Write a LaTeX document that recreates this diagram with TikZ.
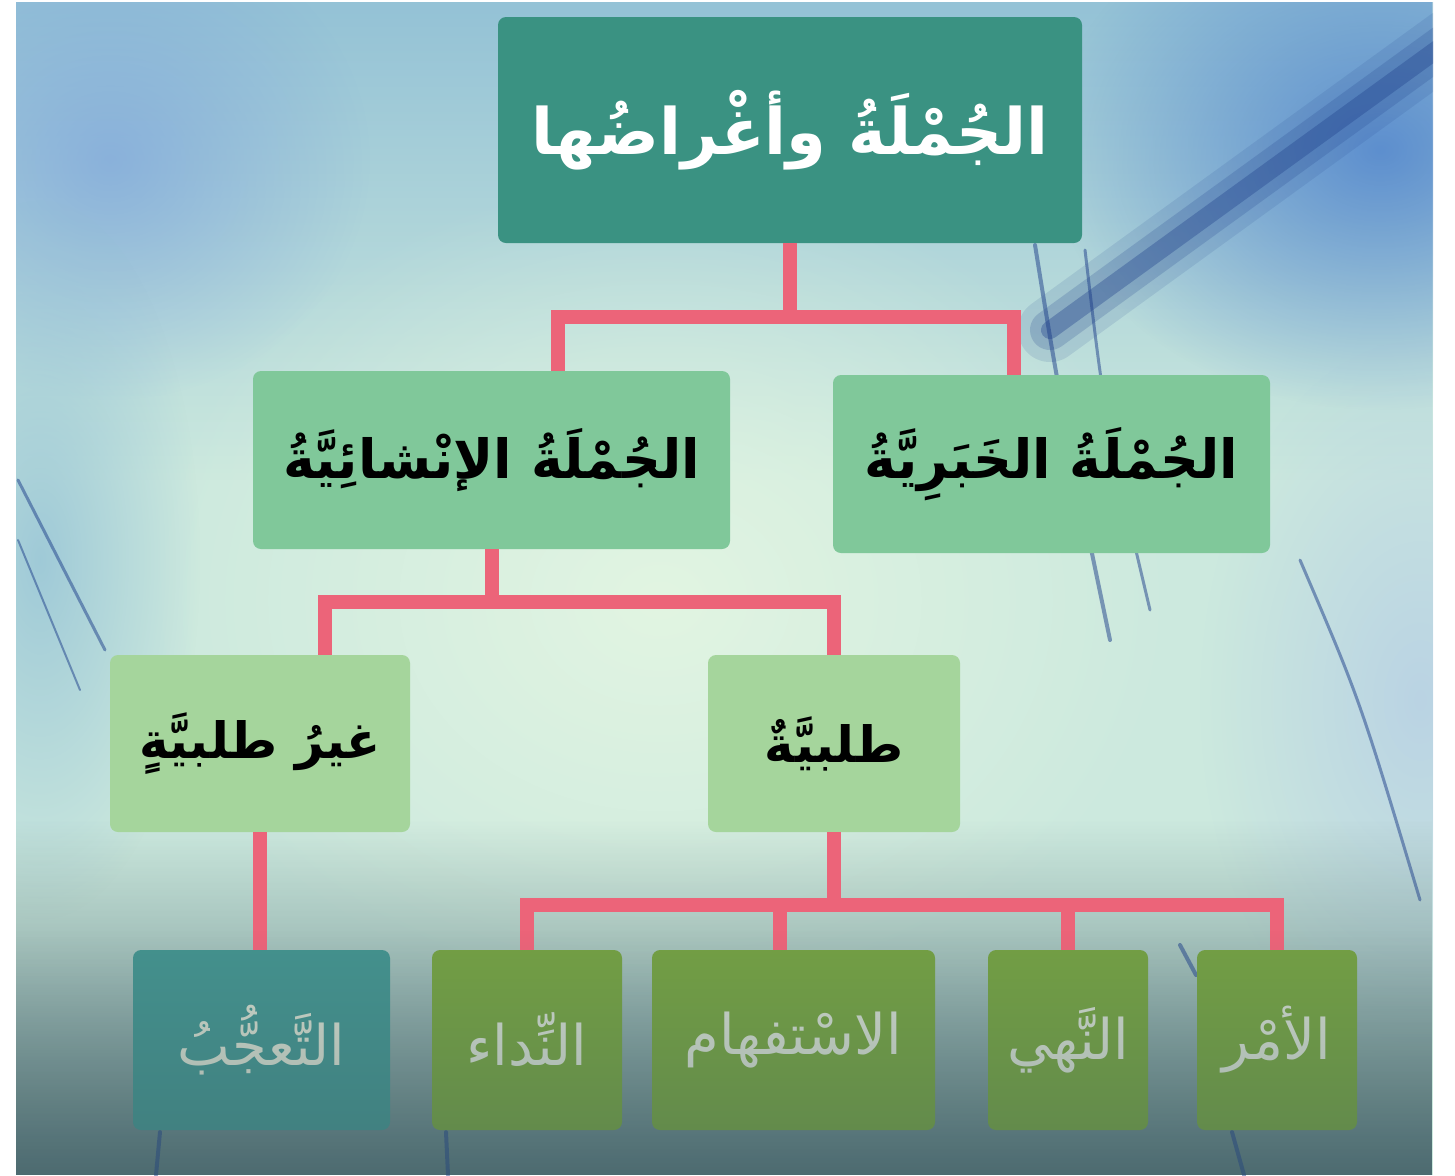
\documentclass[tikz,border=0pt]{standalone}
\usepackage{fontspec}
\TeXXeTstate=1
\newfontfamily\arabicfont[Script=Arabic]{DejaVu Sans}
\usetikzlibrary{calc}
\usetikzlibrary{fadings}
\definecolor{rootteal}{HTML}{3A9282}
\definecolor{kindgreen}{HTML}{80C89A}
\definecolor{subgreen}{HTML}{A5D59C}
\definecolor{leafolive}{HTML}{74A044}
\definecolor{leafteal}{HTML}{44928E}
\definecolor{leaftext}{HTML}{CED8CA}
\definecolor{linkred}{HTML}{EC6479}
\definecolor{bgtop}{HTML}{94C2D6}
\definecolor{bgmid}{HTML}{CCE9DE}
\definecolor{bgglow}{HTML}{E2F5E2}
\definecolor{bgblue}{HTML}{4B7FCC}
\definecolor{bgdark}{HTML}{3A5860}
\definecolor{feather}{HTML}{1E3F8A}
\tikzfading[name=glowfade, inner color=transparent!0, outer color=transparent!100]
\tikzfading[name=fadeup, top color=transparent!100, bottom color=transparent!0]
\tikzfading[name=fadedown, top color=transparent!0, bottom color=transparent!100]
\tikzset{%
  box/.style={rectangle, rounded corners=4pt, inner sep=0pt, anchor=center},
  rootbox/.style={box, fill=rootteal, text=white, minimum width=292pt, minimum height=113pt,
    font=\arabicfont\bfseries\fontsize{32pt}{38pt}\selectfont},
  kindbox/.style={box, fill=kindgreen, text=black, minimum width=#1, minimum height=89pt,
    font=\arabicfont\bfseries\fontsize{27pt}{32pt}\selectfont},
  subbox/.style={box, fill=subgreen, text=black, minimum width=#1, minimum height=88.5pt,
    font=\arabicfont\bfseries\fontsize{25pt}{30pt}\selectfont},
  leafbox/.style={box, fill=leafolive, text=leaftext, minimum width=#1, minimum height=90pt,
    font=\arabicfont\fontsize{28pt}{33pt}\selectfont},
  link/.style={draw=linkred, line width=7pt, line join=miter},
  streak/.style={draw=feather, line width=#1, opacity=0.5, line cap=round}
}

\begin{document}
\begin{tikzpicture}[x=0.5pt, y=-0.5pt]
  \useasboundingbox (0,0) rectangle (1455,1175);
  % photo behind the chart
  \begin{scope}
    \clip (16,2) rectangle (1433,1175);
    \fill[bgmid] (16,2) rectangle (1433,1175);
    \fill[bgtop, path fading=fadedown] (16,2) rectangle (1433,480);
    \fill[bgglow, path fading=glowfade] (660,600) ellipse [x radius=520, y radius=420];
    \fill[bgtop!85!blue, opacity=0.7, path fading=glowfade] (110,160) ellipse [x radius=260, y radius=240];
    \fill[bgtop, opacity=0.8, path fading=glowfade] (40,560) ellipse [x radius=160, y radius=360];
    \fill[bgblue, opacity=0.8, path fading=glowfade] (1380,150) ellipse [x radius=330, y radius=260];
    \fill[bgblue!45!white, opacity=0.6, path fading=glowfade] (1420,700) ellipse [x radius=220, y radius=360];
    \fill[bgdark, opacity=0.8, path fading=fadeup] (16,820) rectangle (1433,1175);
    \foreach \w/\o in {32pt/0.12, 20pt/0.2, 9pt/0.35}
      \draw[draw=feather, line width=\w, opacity=\o, line cap=round] (1450,40) -- (1050,330);
    \draw[streak=2pt] (1035,245) .. controls (1060,400) .. (1110,640);
    \draw[streak=1.5pt] (1085,250) .. controls (1105,420) .. (1150,610);
    \draw[streak=1.5pt] (18,480) -- (105,650);
    \draw[streak=1pt] (18,540) -- (80,690);
    \draw[streak=1.5pt] (1300,560) .. controls (1360,700) .. (1420,900);
    \draw[streak=2pt] (1180,945) -- (1196,975);
    \draw[streak=2pt] (160,1132) -- (156,1175);
    \draw[streak=2pt] (446,1132) -- (448,1175);
    \draw[streak=2pt] (1232,1132) -- (1244,1175);
  \end{scope}

  % boxes
  \node[rootbox] (root) at (790,130) {\beginR الجُمْلَةُ وأغْراضُها\endR};
  \node[kindbox=238.5pt] (inshaa) at (491.5,460) {\beginR الجُمْلَةُ الإنْشائِيَّةُ\endR};
  \node[kindbox=218.5pt] (khabar) at (1051.5,464) {\beginR الجُمْلَةُ الخَبَرِيَّةُ\endR};
  \node[subbox=150pt] (ghayr) at (260,743.5) {\beginR غيرُ طلبيَّةٍ\endR};
  \node[subbox=126pt] (talab) at (834,743.5) {\beginR طلبيَّةٌ\endR};
  \node[leafbox=128.5pt, fill=leafteal] (taajjub) at (261.5,1040) {\beginR التَّعجُّبُ\endR};
  \node[leafbox=95pt] (nidaa) at (527,1040) {\beginR النِّداء\endR};
  \node[leafbox=141.5pt] (istifham) at (793.5,1040) {\beginR الاسْتفهام\endR};
  \node[leafbox=80pt] (nahy) at (1068,1040) {\beginR النَّهي\endR};
  \node[leafbox=80pt] (amr) at (1277,1040) {\beginR الأمْر\endR};

  % connectors
  \draw[link] (root.south) -- ++(0,74) coordinate (j1);
  \draw[link] ([xshift=33pt]inshaa.north) |- (j1) -| ([xshift=-19pt]khabar.north);
  \draw[link] (inshaa.south) -- ++(0,53) coordinate (j2);
  \draw[link] ([xshift=32.5pt]ghayr.north) |- (j2) -| (talab.north);
  \draw[link] (ghayr.south) -- (ghayr.south |- taajjub.north);
  \draw[link] (talab.south) -- ++(0,73) coordinate (j3);
  \draw[link] (nidaa.north) |- (j3) -| (amr.north);
  \draw[link] ([xshift=-7pt]istifham.north) -- ([xshift=-7pt]istifham.north |- j3);
  \draw[link] (nahy.north) -- (nahy.north |- j3);

  % dim veil over the lower row
  \fill[bgdark, opacity=0.35, path fading=fadeup] (16,930) rectangle (1433,1175);
\end{tikzpicture}
\end{document}
